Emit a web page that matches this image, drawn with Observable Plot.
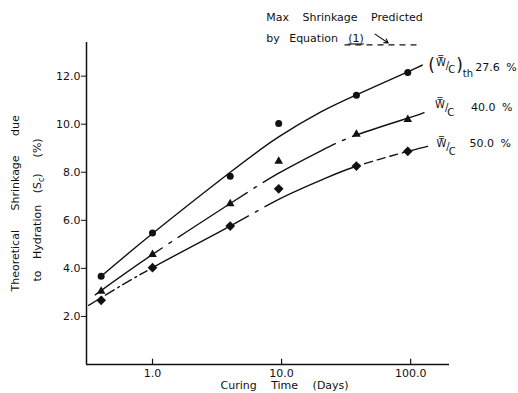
<!DOCTYPE html>
<html><head><meta charset="utf-8">
<script src="https://cdn.jsdelivr.net/npm/d3@7"></script>
<script src="https://cdn.jsdelivr.net/npm/@observablehq/plot@0.6"></script>
<style>
html,body{margin:0;padding:0;background:#fff;}
#chart{width:518px;height:393px;overflow:hidden;}
</style></head><body><div id="chart"></div>
<script>
// ---- data ----
const days = [0.4, 1, 4, 9.5, 38, 95];
const wc276 = [3.67, 5.47, 7.83, 10.03, 11.2, 12.15];
const wc400 = [3.05, 4.58, 6.69, 8.46, 9.58, 10.2];
const wc500 = [2.67, 4.03, 5.76, 7.31, 8.26, 8.87];

// fitted curves
const fitDays276 = [0.4, 1, 4, 9.5, 20, 38, 95, 123];
const fit276 = [3.67, 5.45, 8.0, 9.47, 10.5, 11.22, 12.18, 12.46];
const fitDays400 = [0.36, 1, 4, 9.5, 20, 38, 95, 127];
const fit400 = [2.9, 4.58, 6.7, 7.96, 8.88, 9.55, 10.25, 10.48];
const fitDays500 = [0.32, 1, 4, 9.5, 20, 38, 95, 135];
const fit500 = [2.46, 4.03, 5.76, 6.87, 7.66, 8.25, 8.87, 9.08];

const seriesLabels = ["27.6 %", "40.0 %", "50.0 %"];
const xTicks = [1, 10, 100];
const yTicks = [2, 4, 6, 8, 10, 12];
const xDomain = [0.308, 200];
const yDomain = [0, 13.4];

const maxShrinkage = 13.3;
const maxShrinkageDays = [31, 115];
const arrowDays = [53, 67];
const arrowValues = [13.75, 13.38];

const noteLines = ["Max Shrinkage Predicted", "by Equation (1)"];
const noteDay = 7.6;
const noteValues = [14.46, 13.55];

const xTitle = "Curing Time (Days)";
const yTitle1 = "Theoretical Shrinkage due";
const yTitle2 = "to Hydration (Sc) (%)";

// ---- tables ----
const rows = (xs, ys) => xs.map((d, i) => ({day: d, value: ys[i]}));
const pts276 = rows(days, wc276), pts400 = rows(days, wc400), pts500 = rows(days, wc500);
const c276 = rows(fitDays276, fit276), c400 = rows(fitDays400, fit400), c500 = rows(fitDays500, fit500);
const end = (c) => [c[c.length - 1]];

const ink = "#111";
const lbl = (name) => () => name;

const plot = Plot.plot({
  width: 518, height: 393,
  marginLeft: 86, marginRight: 69, marginTop: 42, marginBottom: 29,
  style: {fontFamily: '"DejaVu Sans", sans-serif', fontSize: "11px", color: ink, background: "#fff", overflow: "visible"},
  x: {type: "log", domain: xDomain},
  y: {domain: yDomain},
  marks: [
    Plot.ruleY([yDomain[0]], {x1: xDomain[0], x2: xDomain[1], stroke: ink, strokeWidth: 1.3}),
    Plot.ruleX([xDomain[0]], {y1: yDomain[0], y2: yDomain[1], stroke: ink, strokeWidth: 1.5}),
    Plot.axisY({ticks: yTicks, tickFormat: d => d.toFixed(1), tickSize: 5, tickPadding: 1, label: null, fontSize: 11, stroke: ink}),
    Plot.axisX({ticks: xTicks, tickFormat: d => d.toFixed(1), tickSize: 0, tickPadding: 5, label: null, fontSize: 11}),
    Plot.ruleX(xTicks, {y1: 0, y2: 0.22, stroke: ink, strokeWidth: 1.2}),

    Plot.line(c276, {x: "day", y: "value", curve: "natural", stroke: ink, strokeWidth: 1.4}),
    Plot.line(c400, {x: "day", y: "value", curve: "natural", stroke: ink, strokeWidth: 1.4, strokeDasharray: "82,8,3,8"}),
    Plot.line(c500, {x: "day", y: "value", curve: "natural", stroke: ink, strokeWidth: 1.4,
      strokeDasharray: "10,4,2,4,10,4,2,4,10,4,2,4,8,4,111,8,3,8,104,5,8,5,8,5,8,5,60,200"}),

    Plot.dot(pts276, {x: "day", y: "value", symbol: "circle", r: 3.5, fill: ink}),
    Plot.dot(pts400, {x: "day", y: "value", symbol: "triangle", r: 3.2, fill: ink}),
    Plot.dot(pts500, {x: "day", y: "value", symbol: "diamond2", r: 4.4, fill: ink}),

    // Max shrinkage annotation
    Plot.ruleY([maxShrinkage], {x1: maxShrinkageDays[0], x2: maxShrinkageDays[1], stroke: ink, strokeWidth: 1.2, strokeDasharray: "6,5"}),
    Plot.arrow([0], {x1: arrowDays[0], y1: arrowValues[0], x2: arrowDays[1], y2: arrowValues[1], stroke: ink, strokeWidth: 1.1, headLength: 6}),
    Plot.text([noteLines[0]], {x: noteDay, y: noteValues[0], text: d => d, textAnchor: "start", fontSize: 11, ariaLabel: lbl("note1")}),
    Plot.text([noteLines[1]], {x: noteDay, y: noteValues[1], text: d => d, textAnchor: "start", fontSize: 11, ariaLabel: lbl("note2")}),

    // curve labels
    Plot.text(end(c276), {x: "day", y: "value", text: () => "(W/C)th", textAnchor: "start", dx: 6, dy: 1, fontSize: 11, ariaLabel: lbl("wc1")}),
    Plot.text(end(c400), {x: "day", y: "value", text: () => "W/C", textAnchor: "start", dx: 11, dy: -4, fontSize: 11, ariaLabel: lbl("wc2")}),
    Plot.text(end(c500), {x: "day", y: "value", text: () => "W/C", textAnchor: "start", dx: 9, dy: 1, fontSize: 11, ariaLabel: lbl("wc3")}),
    Plot.text(end(c276), {x: "day", y: "value", text: () => seriesLabels[0], textAnchor: "start", dx: 53, dy: 2, fontSize: 11, ariaLabel: lbl("pct")}),
    Plot.text(end(c400), {x: "day", y: "value", text: () => seriesLabels[1], textAnchor: "start", dx: 47, dy: -5, fontSize: 11, ariaLabel: lbl("pct")}),
    Plot.text(end(c500), {x: "day", y: "value", text: () => seriesLabels[2], textAnchor: "start", dx: 42, dy: -3, fontSize: 11, ariaLabel: lbl("pct")}),

    // axis titles
    Plot.text([xTitle], {frameAnchor: "bottom-left", textAnchor: "start", lineAnchor: "middle", text: d => d, dx: 134, dy: 21, fontSize: 11, ariaLabel: lbl("xtitle")}),
    Plot.text([yTitle1], {frameAnchor: "left", textAnchor: "start", lineAnchor: "middle", rotate: -90, text: d => d, dx: -71, dy: 88, fontSize: 11, ariaLabel: lbl("ytitle1")}),
    Plot.text([yTitle2], {frameAnchor: "left", textAnchor: "start", lineAnchor: "middle", rotate: -90, text: d => d, dx: -49, dy: 78, fontSize: 11, ariaLabel: lbl("ytitle2")})
  ]
});

document.getElementById("chart").appendChild(plot);

// ---- rich text touch-ups (sub/superscripts, bars, spacing) ----
const svg = d3.select(plot);
function rich(name, parts) {
  svg.selectAll(`text[aria-label="${name}"]`).each(function() {
    const t = d3.select(this);
    t.text(null);
    for (const p of parts) {
      const s = t.append("tspan").text(p.t);
      if (p.x != null) s.attr("x", p.x);
      if (p.dx != null) s.attr("dx", p.dx);
      if (p.dy != null) s.attr("dy", p.dy);
      if (p.size) s.attr("font-size", p.size);
      if (p.deco) s.attr("text-decoration", p.deco);
    }
  });
}
const bar = "W\u033F";
rich("wc1", [{t: "(", size: 17, dy: 1}, {t: bar, size: 10, dx: 1, dy: -5}, {t: "/", size: 10, dy: 3}, {t: "C", size: 10, dx: -1, dy: 4}, {t: ")", size: 17, dx: 1, dy: -2}, {t: "th", size: 10, dy: 6}]);
rich("wc2", [{t: bar, size: 10, dy: -4}, {t: "/", size: 10, dy: 3}, {t: "C", size: 10, dx: -1, dy: 5}]);
rich("wc3", [{t: bar, size: 10, dy: -4}, {t: "/", size: 10, dy: 3}, {t: "C", size: 10, dx: -1, dy: 5}]);
rich("note2", [{t: "by Equation"}, {t: "(1)", x: 82, deco: "underline"}]);
rich("ytitle2", [{t: "to Hydration (S"}, {t: "c", size: 8, dy: 3}, {t: ")", dy: -3}, {t: "(%)", dx: 16}]);
svg.selectAll('text[aria-label="xtitle"]').style("word-spacing", "11px");
svg.selectAll('text[aria-label="ytitle1"]').style("word-spacing", "16px");
svg.selectAll('text[aria-label="ytitle2"]').style("word-spacing", "8px");
svg.selectAll('text[aria-label="note1"]').style("word-spacing", "10px");
svg.selectAll('text[aria-label="note2"]').style("word-spacing", "6px");
svg.selectAll('text[aria-label="pct"]').style("word-spacing", "3px");
</script></body></html>
